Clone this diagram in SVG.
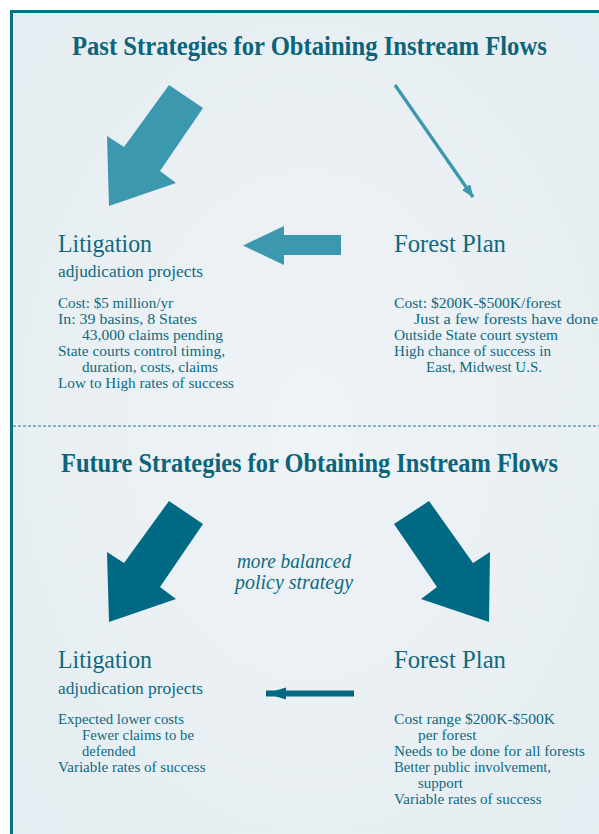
<svg xmlns="http://www.w3.org/2000/svg" width="599" height="834" viewBox="0 0 599 834">
<style>
text{font-family:"Liberation Serif","Times New Roman",serif;fill:#0e6a7f}
.title{font-size:27px;font-weight:bold;fill:#0b6479}
.head{font-size:26px}
.sub{font-size:17px}
.body{font-size:14.8px}
.ital{font-size:20px;font-style:italic}
.past{fill:#3b98af}
.fut{fill:#006a84}
</style>
<defs>
<radialGradient id="bg" cx="0.5" cy="0.5" r="0.8">
<stop offset="0" stop-color="#eef3f6"/>
<stop offset="1" stop-color="#e4ecf1"/>
</radialGradient>
<marker id="thinHead" markerUnits="userSpaceOnUse" markerWidth="14" markerHeight="12" refX="12" refY="5" orient="auto">
<path d="M0,0 L13,5 L0,10 Z" fill="#3b98af"/>
</marker>
<marker id="futHead" markerUnits="userSpaceOnUse" markerWidth="22" markerHeight="14" refX="20" refY="6" orient="auto">
<path d="M0,0 L20,6 L0,12 Z" fill="#006a84"/>
</marker>
</defs>
<rect x="0" y="0" width="599" height="834" fill="#ffffff"/>
<rect x="11.5" y="11.5" width="600" height="830" fill="url(#bg)" stroke="#0e7088" stroke-width="3"/>
<line x1="13" y1="426" x2="599" y2="426" stroke="#1a7a90" stroke-width="1.2" stroke-dasharray="3,2"/>

<g id="past-title"><text class="title" transform="translate(72,55) scale(0.82,1)" x="0" y="0" textLength="579" lengthAdjust="spacingAndGlyphs">Past Strategies for Obtaining Instream Flows</text></g>

<g id="past-litigation">
<text class="head" x="58" y="252" textLength="94" lengthAdjust="spacingAndGlyphs">Litigation</text>
<text class="sub" x="58" y="277" textLength="145" lengthAdjust="spacingAndGlyphs">adjudication projects</text>
<text class="body" x="58" y="308" textLength="115" lengthAdjust="spacingAndGlyphs">Cost: $5 million/yr</text>
<text class="body" x="58" y="324" textLength="139" lengthAdjust="spacingAndGlyphs">In: 39 basins, 8 States</text>
<text class="body" x="82" y="340" textLength="141" lengthAdjust="spacingAndGlyphs">43,000 claims pending</text>
<text class="body" x="58" y="356" textLength="167" lengthAdjust="spacingAndGlyphs">State courts control timing,</text>
<text class="body" x="82" y="372" textLength="136" lengthAdjust="spacingAndGlyphs">duration, costs, claims</text>
<text class="body" x="58" y="388" textLength="176" lengthAdjust="spacingAndGlyphs">Low to High rates of success</text>
</g>

<g id="past-forest">
<text class="head" x="394" y="252" textLength="112" lengthAdjust="spacingAndGlyphs">Forest Plan</text>
<text class="body" x="394" y="308" textLength="167" lengthAdjust="spacingAndGlyphs">Cost: $200K-$500K/forest</text>
<text class="body" x="414" y="324" textLength="184" lengthAdjust="spacingAndGlyphs">Just a few forests have done</text>
<text class="body" x="394" y="340" textLength="164" lengthAdjust="spacingAndGlyphs">Outside State court system</text>
<text class="body" x="394" y="356" textLength="157" lengthAdjust="spacingAndGlyphs">High chance of success in</text>
<text class="body" x="426" y="372" textLength="116" lengthAdjust="spacingAndGlyphs">East, Midwest U.S.</text>
</g>

<g id="future-title"><text class="title" transform="translate(61,472) scale(0.82,1)" x="0" y="0" textLength="606" lengthAdjust="spacingAndGlyphs">Future Strategies for Obtaining Instream Flows</text></g>

<g id="future-balance">
<text class="ital" x="237" y="568" textLength="114" lengthAdjust="spacingAndGlyphs">more balanced</text>
<text class="ital" x="235" y="589" textLength="118" lengthAdjust="spacingAndGlyphs">policy strategy</text>
</g>

<g id="future-litigation">
<text class="head" x="58" y="668" textLength="94" lengthAdjust="spacingAndGlyphs">Litigation</text>
<text class="sub" x="58" y="694" textLength="145" lengthAdjust="spacingAndGlyphs">adjudication projects</text>
<text class="body" x="58" y="724" textLength="126" lengthAdjust="spacingAndGlyphs">Expected lower costs</text>
<text class="body" x="82" y="740" textLength="112" lengthAdjust="spacingAndGlyphs">Fewer claims to be</text>
<text class="body" x="82" y="756" textLength="53.5" lengthAdjust="spacingAndGlyphs">defended</text>
<text class="body" x="58" y="772" textLength="147.5" lengthAdjust="spacingAndGlyphs">Variable rates of success</text>
</g>

<g id="future-forest">
<text class="head" x="394" y="668" textLength="112" lengthAdjust="spacingAndGlyphs">Forest Plan</text>
<text class="body" x="394" y="724" textLength="161" lengthAdjust="spacingAndGlyphs">Cost range $200K-$500K</text>
<text class="body" x="418" y="740" textLength="58.5" lengthAdjust="spacingAndGlyphs">per forest</text>
<text class="body" x="394" y="756" textLength="191" lengthAdjust="spacingAndGlyphs">Needs to be done for all forests</text>
<text class="body" x="394" y="772" textLength="157" lengthAdjust="spacingAndGlyphs">Better public involvement,</text>
<text class="body" x="418" y="788" textLength="45" lengthAdjust="spacingAndGlyphs">support</text>
<text class="body" x="394" y="804" textLength="147.5" lengthAdjust="spacingAndGlyphs">Variable rates of success</text>
</g>

<g id="connectors">
<polygon class="past" points="169,85 203,108 160,171 176,183 109,206 107,136 124,147"/>
<polygon class="past" points="243,245.5 284,226 284,235 341,235 341,255 284,255 284,265"/>
<line x1="395" y1="85" x2="473" y2="197" stroke="#3b98af" stroke-width="3.3" marker-end="url(#thinHead)"/>
<polygon class="fut" points="169,501 203,524 160,587 176,599 109,622 107,552 124,563"/>
<polygon class="fut" points="429,501 394,524 437,587 421,599 489,622 490,552 473,563"/>
<line x1="354" y1="693.5" x2="266" y2="693.5" stroke="#006a84" stroke-width="6" marker-end="url(#futHead)"/>
</g>
</svg>
